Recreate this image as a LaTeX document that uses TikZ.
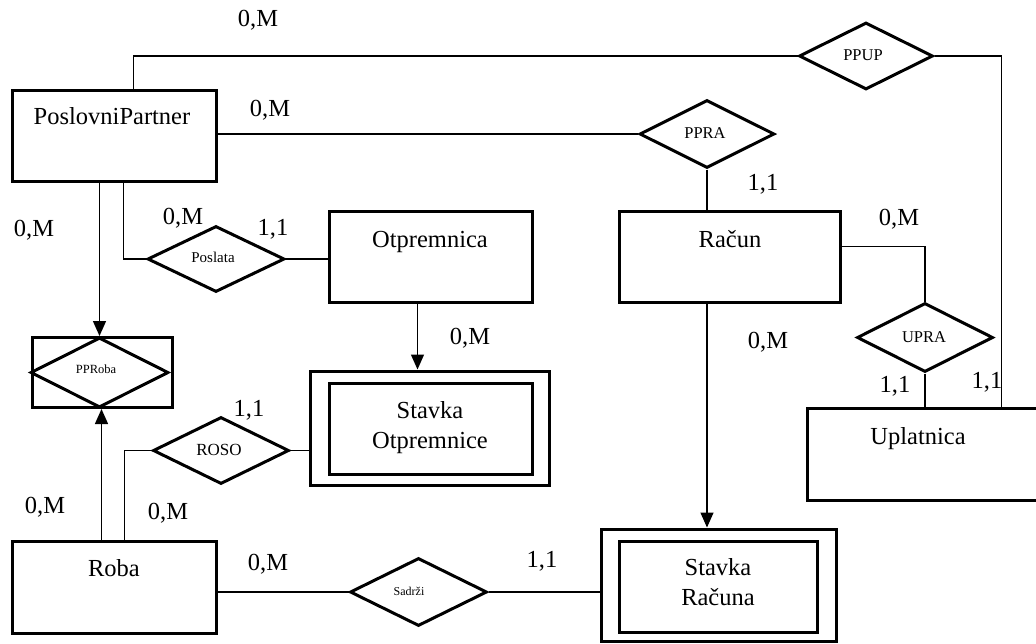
\documentclass[tikz,border=0pt]{standalone}
\usepackage{fontspec}
\setmainfont{Liberation Serif}
\usetikzlibrary{shapes.geometric,arrows.meta,calc}
\begin{document}
\begin{tikzpicture}[x=1pt,y=-1pt,
  ent/.style={draw,rectangle,line width=3pt,inner sep=0pt},
  dia/.style={draw,shape=diamond,line width=3pt,inner sep=0pt},
  txt/.style={inner sep=0pt,anchor=base,font=\fontsize{24.5}{30}\selectfont},
  ttl/.style={inner sep=0pt,anchor=north,align=center,font=\fontsize{24.5}{30}\selectfont},
  card/.style={inner sep=0pt,anchor=base,font=\fontsize{24.5}{30}\selectfont},
  dlbl/.style={inner sep=0pt,anchor=base},
  conn/.style={line width=1.4pt},
  arr/.style={conn,-{Triangle[width=13pt,length=15pt]}}]
\useasboundingbox (0,0) rectangle (1036,643);

% entities
\node[ent,minimum width=204pt,minimum height=91pt] (pp) at (114,135.5) {};
\node[txt] (ppt) at (112,124) {PoslovniPartner};
\node[ent,minimum width=203pt,minimum height=91pt] (otp) at (430.5,256.5) {};
\node[txt] (otpt) at (430,247) {Otpremnica};
\node[ent,minimum width=221pt,minimum height=91pt] (racun) at (729.5,256.5) {};
\node[txt] (racunt) at (730,247) {Račun};
\node[ent,minimum width=238pt,minimum height=92pt] (upl) at (926,454) {};
\node[txt] (uplt) at (918,444) {Uplatnica};
\node[ent,minimum width=204pt,minimum height=92pt] (roba) at (114,587) {};
\node[txt] (robat) at (114,576) {Roba};
\node[ent,minimum width=239pt,minimum height=114pt] (sto) at (429.5,428) {};
\node[ent,minimum width=203pt,minimum height=91pt] (stoi) at (430.5,428.5) {};
\node[ttl] (stot) at (430,401.5) {Stavka\\Otpremnice};
\node[ent,minimum width=235pt,minimum height=112pt] (str) at (718.5,585) {};
\node[ent,minimum width=198pt,minimum height=91pt] (stri) at (718,586.5) {};
\node[ttl] (strt) at (718,558.5) {Stavka\\Računa};
\node[ent,minimum width=140pt,minimum height=70pt] (pprobar) at (102,372.5) {};

% relationships
\node[dia,minimum width=134pt,minimum height=67pt] (ppup) at (866,56) {};
\node[dlbl,font=\fontsize{16.5}{18}\selectfont] (ppupt) at (863,60) {PPUP};
\node[dia,minimum width=135pt,minimum height=68pt] (ppra) at (707,134) {};
\node[dlbl,font=\fontsize{16.5}{18}\selectfont] (ppsat) at (705,138) {PPRA};
\node[dia,minimum width=137pt,minimum height=66pt] (poslata) at (216,259) {};
\node[dlbl,font=\fontsize{15}{17}\selectfont] (poslatat) at (213,262) {Poslata};
\node[dia,minimum width=136pt,minimum height=69pt] (upra) at (925,337.5) {};
\node[dlbl,font=\fontsize{16.5}{18}\selectfont] (uprat) at (924,342) {UPRA};
\node[dia,minimum width=136pt,minimum height=67pt] (roso) at (221,450.5) {};
\node[dlbl,font=\fontsize{17}{19}\selectfont] (rosot) at (219,455) {ROSO};
\node[dia,minimum width=137pt,minimum height=68pt] (sadrzi) at (418.5,592) {};
\node[dlbl,font=\fontsize{12}{14}\selectfont] (sadrzit) at (409,595) {Sadrži};
\node[dia,minimum width=138pt,minimum height=70pt] (pproba) at (99.5,372.5) {};
\node[dlbl,font=\fontsize{12.5}{14}\selectfont] (pprobat) at (96,373) {PPRoba};

% connectors
\draw[conn] ($(pp.north west)+(123,0)$) |- (ppup.west);
\draw[conn] (ppup.east) -| ($(upl.north west)+(196,0)$);
\draw[conn] (ppra.west -| pp.east) -- (ppra.west);
\draw[conn] (ppra.south) -- (ppra.south |- racun.north);
\draw[conn] ($(racun.north east)+(0,37)$) -| (upra.north);
\draw[conn] (upra.south) -- (upra.south |- upl.north);
\draw[conn] ($(pp.south west)+(113,0)$) |- (poslata.west);
\draw[conn] (poslata.east) -- (poslata.east -| otp.west);
\draw[arr] (pproba.north |- pp.south) -- (pproba.north);
\draw[arr] ($(roba.north west)+(91,0)$) coordinate (rb) -- (rb |- pproba.south);
\draw[conn] ($(roba.north west)+(114,0)$) |- (roso.west);
\draw[conn] (roso.east) -- (roso.east -| sto.west);
\draw[arr] ($(otp.south west)+(90,0)$) coordinate (oa) -- (oa |- sto.north);
\draw[conn] (sadrzi.west -| roba.east) -- (sadrzi.west);
\draw[conn] (sadrzi.east) -- (sadrzi.east -| str.west);
\draw[arr] (ppra.south |- racun.south) -- (ppra.south |- str.north);

% cardinalities
\node[card] (c1) at (258,26) {0,M};
\node[card] (c2) at (270,116) {0,M};
\node[card] (c3) at (34,236) {0,M};
\node[card] (c4) at (183,224) {0,M};
\node[card] (c5) at (273,235) {1,1};
\node[card] (c6) at (763,190) {1,1};
\node[card] (c7) at (899,225) {0,M};
\node[card] (c8) at (470,344) {0,M};
\node[card] (c9) at (768,348) {0,M};
\node[card] (c10) at (895,392) {1,1};
\node[card] (c11) at (987,388) {1,1};
\node[card] (c12) at (249,416) {1,1};
\node[card] (c13) at (45,513) {0,M};
\node[card] (c14) at (168,519) {0,M};
\node[card] (c15) at (268,570) {0,M};
\node[card] (c16) at (542,567) {1,1};
\end{tikzpicture}
\end{document}
